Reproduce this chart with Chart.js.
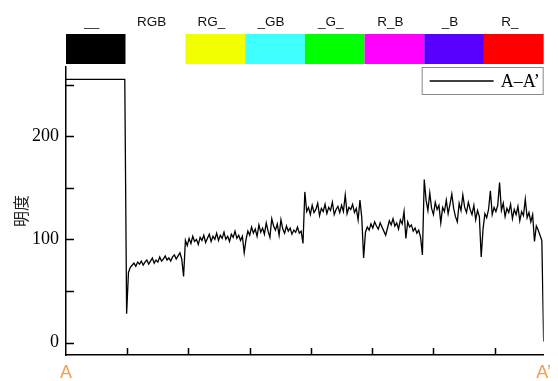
<!DOCTYPE html>
<html>
<head>
<meta charset="utf-8">
<script src="https://cdn.jsdelivr.net/npm/chart.js@4.4.1/dist/chart.umd.min.js"></script>
<style>
  html, body { margin: 0; padding: 0; background: #fff; }
</style>
</head>
<body>
<canvas id="chart" width="558" height="381"></canvas>
<script>
// brightness profile along A-A', sampled every 3 units of the 780-unit line
const profileStep = 3;
const profileValues = [
    // __ (black)
    255, 255, 255, 255, 255, 255, 255, 255, 255, 255, 255, 255, 255, 255, 255, 255,
    255, 255, 255, 255, 255, 255, 255, 255, 255, 255, 255, 255, 255, 255, 255, 255, 255,
    // RGB
    28, 68, 73, 75, 77, 74, 78, 76, 79, 75, 78, 80, 76, 79, 82, 77,
    80, 78, 83, 79, 81, 84, 80, 82, 79, 83, 85, 81, 84, 87, 81, 64,
    // RG_
    99, 94, 101, 96, 103, 98, 100, 95, 102, 99, 104, 97, 101, 105, 98, 103,
    100, 106, 99, 104, 101, 107, 100, 103, 98, 105, 102, 108, 101, 104, 99, 103, 87,
    // _GB
    100, 108, 104, 112, 106, 110, 103, 114, 107, 111, 105, 116, 108, 102, 120, 113,
    109, 115, 104, 119, 110, 106, 113, 108, 111, 105, 109, 107, 112, 106, 108, 96, 146,
    // _G_
    127, 131, 124, 133, 126, 129, 135, 123, 130, 127, 134, 125, 131, 128, 136, 124,
    129, 132, 126, 133, 127, 143, 125, 131, 129, 134, 126, 130, 119, 138, 121, 82,
    // R_B
    107, 112, 109, 115, 111, 117, 113, 110, 116, 112, 108, 104, 111, 118, 114, 120,
    113, 116, 110, 119, 115, 127, 101, 117, 112, 114, 108, 111, 106, 109, 102, 85, 158,
    // _B
    138, 128, 145, 130, 124, 136, 129, 133, 116, 131, 127, 138, 125, 134, 144, 130,
    122, 117, 135, 128, 143, 131, 126, 136, 129, 124, 133, 119, 128, 122, 83, 110,
    // R_
    125, 121, 129, 147, 124, 131, 127, 133, 155, 128, 135, 122, 130, 126, 134, 120,
    129, 124, 132, 118, 127, 123, 139, 121, 126, 117, 124, 98, 113, 109, 104, 99, 1
];

const channelLabels = ['__', 'RGB', 'RG_', '_GB', '_G_', 'R_B', '_B', 'R_'];
const channelColors = ['#000000', '#ffffff', '#f2ff00', '#3fffff', '#00ff00', '#ff00ff', '#5800ff', '#ff0000'];

const xMax = 780;
const xTickValues = [100, 200, 300, 400, 500, 600, 700];
const endLabels = ['A', 'A’'];
const yTickValues = [0, 50, 100, 150, 200, 250];
const yLabelValues = [0, 100, 200];
const seriesLabel = 'A–A’';
const yTitle = '明度';

const serif = "'Liberation Serif', 'DejaVu Serif', serif";
const sans = "'Liberation Sans', Arial, sans-serif";

const overlayPlugin = {
    id: 'overlayPlugin',
    afterDraw: (chart) => {
        const { ctx, chartArea: { left, top, right, bottom }, scales: { x, y } } = chart;
        ctx.save();

        // colour bars above the plot
        const seg = xMax / channelLabels.length;
        ctx.font = '13.5px ' + sans;
        ctx.textAlign = 'center';
        ctx.textBaseline = 'middle';
        channelLabels.forEach((label, i) => {
            const x0 = x.getPixelForValue(i * seg);
            const x1 = x.getPixelForValue((i + 1) * seg);
            ctx.fillStyle = channelColors[i];
            ctx.fillRect(x0, top - 33, x1 - x0, 30);
            ctx.fillStyle = '#111';
            ctx.fillText(label, (x0 + x1) / 2 - 4, top - 45);
        });

        // inward tick marks
        ctx.strokeStyle = '#000';
        ctx.lineWidth = 1.5;
        ctx.beginPath();
        yTickValues.forEach(v => {
            const py = Math.round(y.getPixelForValue(v)) + 0.5;
            ctx.moveTo(left, py);
            ctx.lineTo(left + 8, py);
        });
        xTickValues.forEach(v => {
            const px = Math.round(x.getPixelForValue(v)) + 0.5;
            ctx.moveTo(px, bottom);
            ctx.lineTo(px, bottom - 7);
        });
        ctx.stroke();

        // legend box inside the plot, top right
        const ds = chart.data.datasets[0];
        const bw = 122, bh = 28;
        const bx = right - bw, by = top;
        ctx.fillStyle = '#fff';
        ctx.fillRect(bx, by, bw, bh);
        ctx.strokeStyle = '#888';
        ctx.lineWidth = 1;
        ctx.strokeRect(bx + 0.5, by + 0.5, bw - 1, bh - 1);
        ctx.strokeStyle = ds.borderColor;
        ctx.lineWidth = 1.3;
        ctx.beginPath();
        ctx.moveTo(bx + 8, by + 14);
        ctx.lineTo(bx + 72, by + 14);
        ctx.stroke();
        ctx.fillStyle = '#000';
        ctx.font = '18px ' + serif;
        ctx.textAlign = 'left';
        ctx.textBaseline = 'middle';
        ctx.fillText(ds.label, bx + 79, by + 15);

        ctx.restore();
    }
};

new Chart(document.getElementById('chart').getContext('2d'), {
    type: 'line',
    data: {
        datasets: [{
            label: seriesLabel,
            data: profileValues.map((v, i) => ({ x: i * profileStep, y: v })),
            borderColor: '#000',
            borderWidth: 1.3,
            pointRadius: 0,
            tension: 0,
            fill: false
        }]
    },
    options: {
        responsive: false,
        animation: false,
        devicePixelRatio: 1,
        layout: {
            padding: { top: 67, right: 13, left: 0, bottom: 0 }
        },
        plugins: {
            legend: { display: false },
            tooltip: { enabled: false }
        },
        scales: {
            x: {
                type: 'linear',
                min: 0,
                max: xMax,
                grid: { display: false, drawTicks: false, tickLength: 0 },
                border: { display: true, color: '#000', width: 1.5 },
                afterBuildTicks: (s) => { s.ticks = [{ value: 0 }, { value: xMax }]; },
                afterFit: (s) => { s.height = 26; },
                ticks: {
                    autoSkip: false,
                    maxRotation: 0,
                    padding: 7,
                    color: '#f4a04a',
                    font: { family: sans, size: 18 },
                    callback: (v) => (v === 0 ? endLabels[0] : endLabels[1])
                }
            },
            y: {
                min: -12,
                max: 267,
                grid: { display: false, drawTicks: false, tickLength: 0 },
                border: { display: true, color: '#000', width: 1.5 },
                afterBuildTicks: (s) => { s.ticks = yTickValues.map(v => ({ value: v })); },
                afterFit: (s) => { s.width = 66; },
                ticks: {
                    padding: 7,
                    color: '#000',
                    font: { family: serif, size: 18 },
                    callback: (v) => (yLabelValues.includes(v) ? v : '')
                },
                title: {
                    display: true,
                    text: yTitle,
                    color: '#222',
                    font: { family: "'Noto Sans CJK JP', 'Noto Sans CJK SC', sans-serif", size: 16 },
                    padding: { top: 11, bottom: 0 }
                }
            }
        }
    },
    plugins: [overlayPlugin]
});
</script>
</body>
</html>
